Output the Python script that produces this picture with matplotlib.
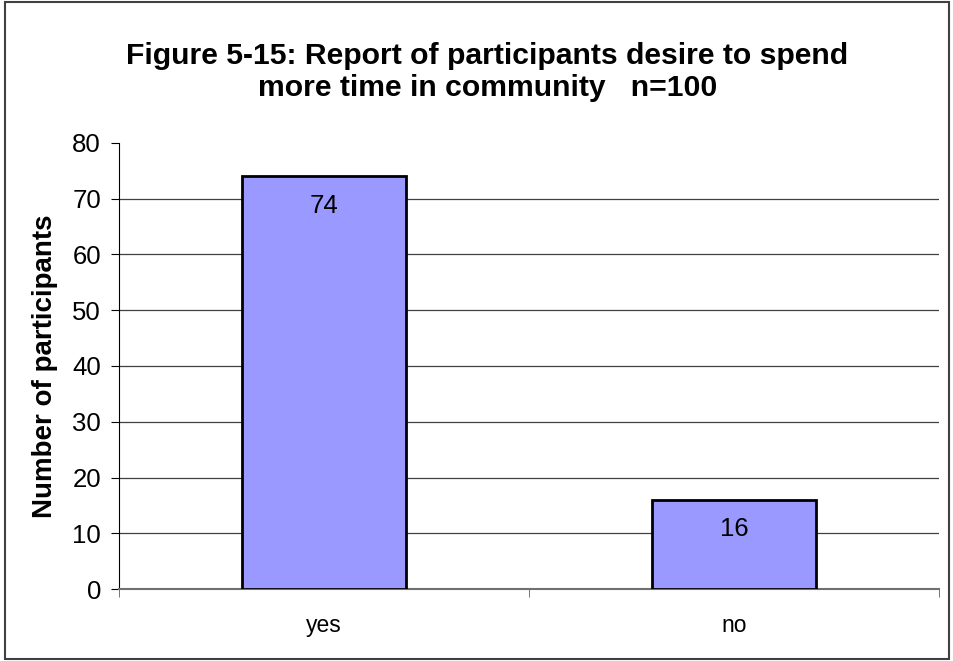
import matplotlib
matplotlib.use("Agg")
import matplotlib.pyplot as plt
from matplotlib.patches import Rectangle

categories = ["yes", "no"]
counts = [74, 16]
y_ticks = [0, 10, 20, 30, 40, 50, 60, 70, 80]

plt.rcParams["font.family"] = ["Liberation Sans", "DejaVu Sans"]

fig = plt.figure(figsize=(9.54, 6.61), dpi=100)
fig.patches.append(Rectangle((0.005, 0.003), 0.99, 0.994, transform=fig.transFigure,
                             fill=False, edgecolor="#404040", linewidth=1.5))

ax = fig.add_axes([0.1247, 0.1089, 0.8596, 0.6748])
x = list(range(len(categories)))
ax.bar(x, counts, width=0.4, color="#9999FF", edgecolor="black", linewidth=2, zorder=3)

for xi, v in zip(x, counts):
    ax.annotate(str(v), (xi, v), xytext=(0, -21), textcoords="offset points",
                ha="center", va="center", fontsize=18.5, zorder=4)

ax.set_xlim(-0.5, len(categories) - 0.5)
ax.set_ylim(0, 80)
ax.set_yticks(y_ticks)
ax.set_yticklabels([str(t) for t in y_ticks], fontsize=18.5)
for t in y_ticks[1:-1]:
    ax.axhline(t, color="#404040", linewidth=0.9, zorder=1)

ax.set_xticks(x)
ax.set_xticklabels(categories, fontsize=16.5)
ax.tick_params(axis="x", length=0, pad=18)
ax.set_xticks([-0.5, 0.5, 1.5], minor=True)
ax.tick_params(axis="x", which="minor", length=6, color="#606060", direction="out")
ax.tick_params(axis="y", length=6, direction="out", pad=7)

for s in ["top", "right"]:
    ax.spines[s].set_visible(False)
ax.spines["left"].set_color("black")
ax.spines["bottom"].set_color("#707070")
ax.spines["bottom"].set_linewidth(1.5)

ax.set_ylabel("Number of participants", fontsize=20, fontweight="bold", labelpad=10)

fig.text(0.511, 0.891, "Figure 5-15: Report of participants desire to spend\nmore time in community   n=100",
         ha="center", va="center", fontsize=21.7, fontweight="bold", linespacing=1.22)

fig.savefig("out.png", dpi=100)
